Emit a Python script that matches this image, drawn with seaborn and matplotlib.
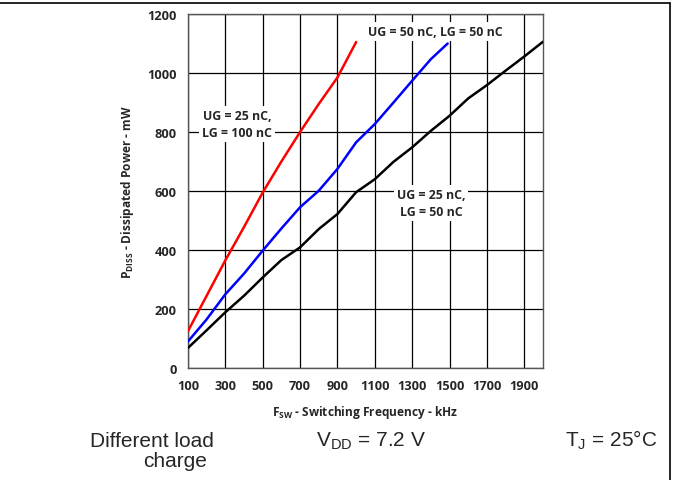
import numpy as np
import pandas as pd
import seaborn as sns
from matplotlib import pyplot as plt

# curve data (kHz, mW)
red_f = [100, 200, 300, 400, 500, 600, 700, 800, 900, 1000]
red_p = [125, 245, 365, 478, 595, 700, 800, 895, 985, 1105]

blue_f = [100, 200, 300, 400, 500, 600, 700, 800, 900, 1000, 1100, 1200, 1300, 1400, 1490]
blue_p = [90, 165, 250, 320, 398, 473, 545, 601, 675, 765, 827, 900, 974, 1047, 1100]

black_f = [100, 200, 300, 400, 500, 600, 700, 800, 900, 1000, 1100, 1200, 1300, 1400, 1500,
           1600, 1700, 1800, 1900, 2000]
black_p = [68, 128, 189, 245, 307, 366, 409, 471, 522, 596, 640, 699, 748, 804, 855,
           914, 959, 1008, 1056, 1106]

x_ticks = [100, 300, 500, 700, 900, 1100, 1300, 1500, 1700, 1900]
y_ticks = [0, 200, 400, 600, 800, 1000, 1200]

df = pd.concat([
    pd.DataFrame({'f': red_f, 'p': red_p, 'case': 'UG25_LG100'}),
    pd.DataFrame({'f': blue_f, 'p': blue_p, 'case': 'UG50_LG50'}),
    pd.DataFrame({'f': black_f, 'p': black_p, 'case': 'UG25_LG50'}),
])

sns.set_style('white')
plt.rcParams['font.family'] = ['Open Sans', 'DejaVu Sans']
plt.rcParams['mathtext.default'] = 'regular'

fig = plt.figure(figsize=(6.73, 4.81), dpi=100)
ax = fig.add_axes([0.2793, 0.2328, 0.5275, 0.736])

sns.lineplot(data=df, x='f', y='p', hue='case', sort=False, estimator=None,
             palette={'UG25_LG100': '#ff0000', 'UG50_LG50': '#0000ff', 'UG25_LG50': '#000000'},
             linewidth=1.8, legend=False, ax=ax, zorder=5)

ax.set_xlim(100, 2000)
ax.set_ylim(0, 1200)
ax.set_xticks(x_ticks)
ax.set_yticks(y_ticks)
ax.grid(True, color='#000000', linewidth=0.9)
ax.set_axisbelow(True)
for s in ax.spines.values():
    s.set_color('#555555')
    s.set_linewidth(1.0)
ax.tick_params(length=0, labelsize=9.2, pad=8)
for lbl in ax.get_xticklabels() + ax.get_yticklabels():
    lbl.set_fontweight('bold')

ax.set_xlabel('F$_{SW}$ - Switching Frequency - kHz', fontsize=8.6, fontweight='bold', labelpad=8)
ax.set_ylabel('P$_{DISS}$ - Dissipated Power - mW', fontsize=8.6, fontweight='bold', labelpad=8)

box = dict(facecolor='white', edgecolor='none', pad=2)
ax.text(1425, 1140, 'UG = 50 nC, LG = 50 nC', fontsize=8.9, fontweight='bold',
        ha='center', va='center', bbox=box, zorder=6)
ax.text(362, 827, 'UG = 25 nC,\nLG = 100 nC', fontsize=8.9, fontweight='bold',
        ha='center', va='center', bbox=box, zorder=6, linespacing=1.4)
ax.text(1400, 560, 'UG = 25 nC,\nLG = 50 nC', fontsize=8.9, fontweight='bold',
        ha='center', va='center', bbox=box, zorder=6, linespacing=1.4)

# conditions under the chart
cond = dict(fontsize=15, family=['Liberation Sans', 'DejaVu Sans'], va='baseline')
fig.text(214 / 673, 1 - 447 / 481, 'Different load', ha='right', **cond)
fig.text(207 / 673, 1 - 467 / 481, 'charge', ha='right', **cond)
fig.text(316 / 673, 1 - 447 / 481, 'V$_{DD}$ = 7.2 V', ha='left', **cond)
fig.text(657 / 673, 1 - 447 / 481, 'T$_{J}$ = 25°C', ha='right', **cond)

# outer frame lines (top and right)
fig.add_artist(plt.Line2D([0, 670 / 673], [1 - 4 / 481, 1 - 4 / 481], color='black', linewidth=1.2))
fig.add_artist(plt.Line2D([670 / 673, 670 / 673], [1 - 4 / 481, 0], color='black', linewidth=1.2))

fig.savefig('out.png', dpi=100)
